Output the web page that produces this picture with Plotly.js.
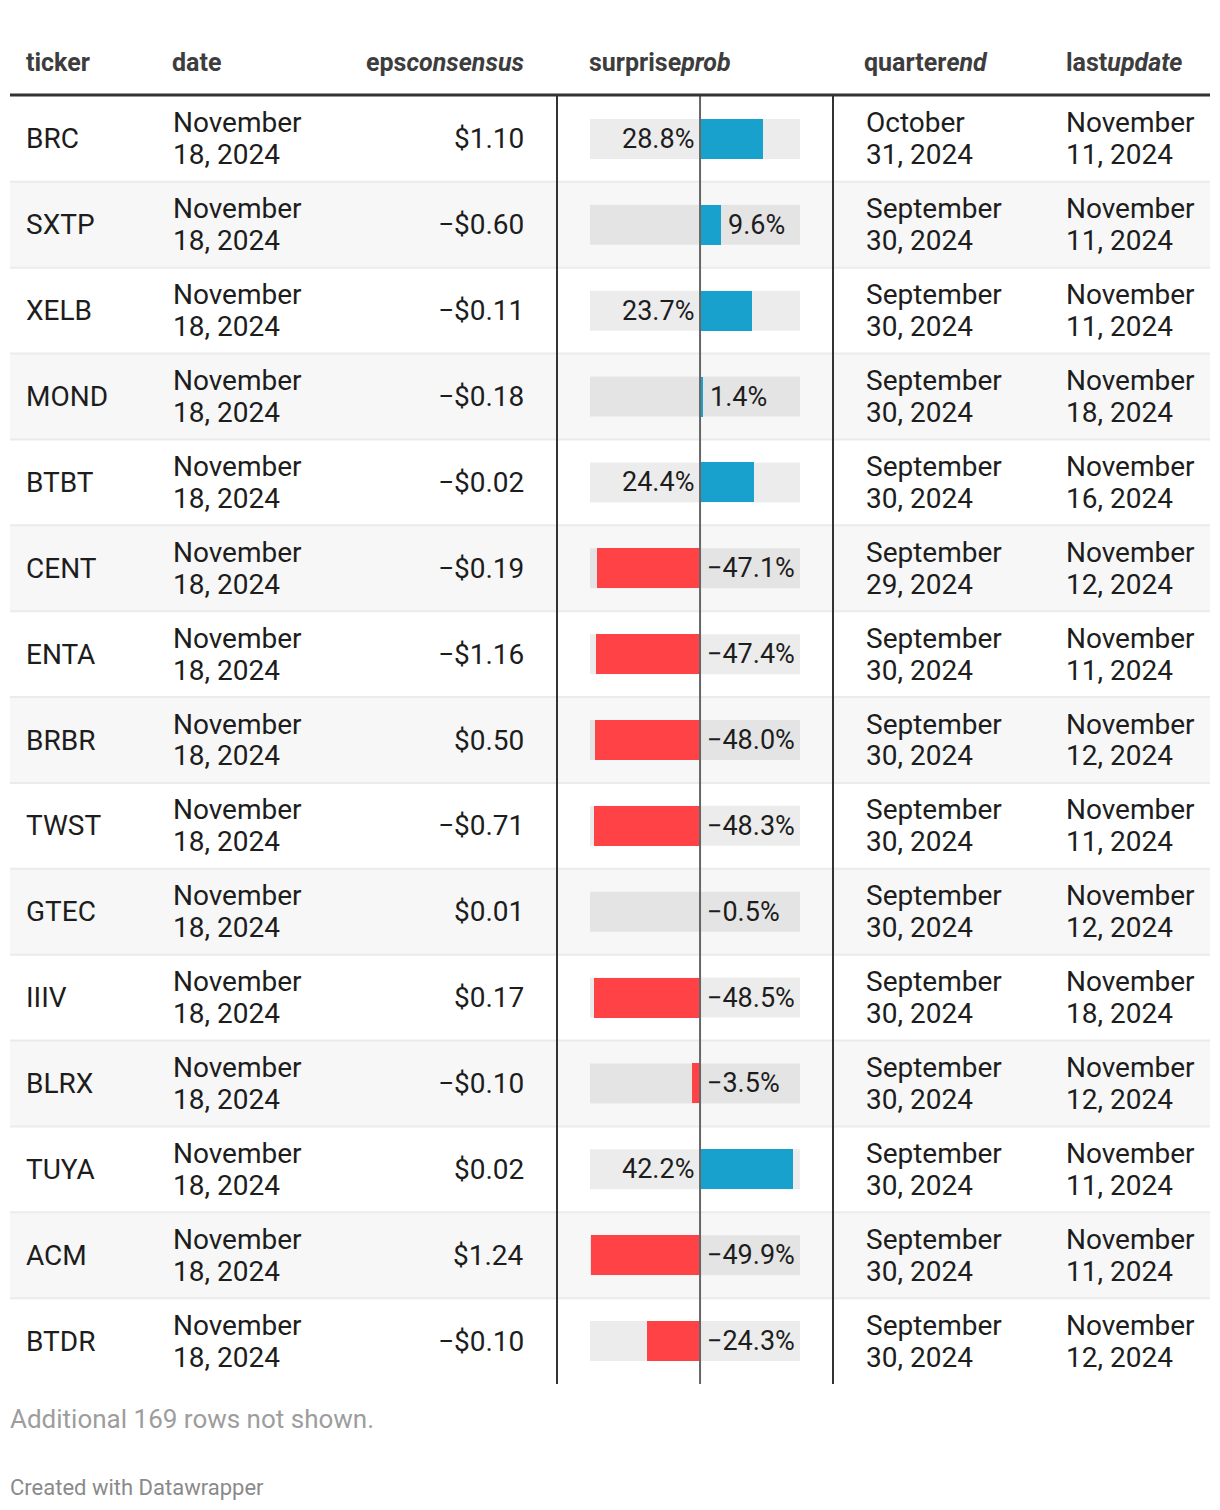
<!DOCTYPE html>
<html>
<head>
<meta charset="utf-8">
<script src="https://cdn.plot.ly/plotly-3.0.1.min.js"></script>
<style>
  html, body { margin: 0; padding: 0; background: #ffffff; }
  #chart { width: 1220px; height: 1510px; }
</style>
</head>
<body>
<div id="chart"></div>
<script>
// ---------------- data ----------------
const tickers = ["BRC","SXTP","XELB","MOND","BTBT","CENT","ENTA","BRBR","TWST","GTEC","IIIV","BLRX","TUYA","ACM","BTDR"];
const dates = ["November 18, 2024","November 18, 2024","November 18, 2024","November 18, 2024","November 18, 2024",
               "November 18, 2024","November 18, 2024","November 18, 2024","November 18, 2024","November 18, 2024",
               "November 18, 2024","November 18, 2024","November 18, 2024","November 18, 2024","November 18, 2024"];
const epsConsensus = [1.10, -0.60, -0.11, -0.18, -0.02, -0.19, -1.16, 0.50, -0.71, 0.01, 0.17, -0.10, 0.02, 1.24, -0.10];
const surpriseProb = [28.8, 9.6, 23.7, 1.4, 24.4, -47.1, -47.4, -48.0, -48.3, -0.5, -48.5, -3.5, 42.2, -49.9, -24.3];
const quarterEnd = ["October 31, 2024","September 30, 2024","September 30, 2024","September 30, 2024","September 30, 2024",
                    "September 29, 2024","September 30, 2024","September 30, 2024","September 30, 2024","September 30, 2024",
                    "September 30, 2024","September 30, 2024","September 30, 2024","September 30, 2024","September 30, 2024"];
const lastUpdate = ["November 11, 2024","November 11, 2024","November 11, 2024","November 18, 2024","November 16, 2024",
                    "November 12, 2024","November 11, 2024","November 12, 2024","November 11, 2024","November 12, 2024",
                    "November 18, 2024","November 12, 2024","November 11, 2024","November 11, 2024","November 12, 2024"];
const hiddenRows = 169;

// ---------------- layout helpers ----------------
const W = 1220, H = 1510;
const px = x => x / W;             // horizontal pixel -> paper
const py = y => 1 - y / H;         // vertical pixel (from top) -> paper
const n = tickers.length;
const rowIdx = tickers.map((_, i) => i);
const FONT = "Roboto, 'Noto Sans', Arial, sans-serif";
const TXT = "#1d1d1d";
const LINE_OFF = 0.186;            // half line spacing in row units
const BAR_RANGE = [-50.2, 45.6];   // bar column axis range
const BAR_PX = 210;                // bar column width in pixels

const fmtEps = v => (v < 0 ? "\u2212" : "") + "$" + Math.abs(v).toFixed(2);
const fmtPct = v => (v < 0 ? "\u2212" : "") + Math.abs(v).toFixed(1) + "%";
const splitDate = s => { const k = s.indexOf(" "); return [s.slice(0, k), s.slice(k + 1)]; };

const shapes = [];
const annotations = [];

// row backgrounds + separators
for (let i = 0; i < n; i++) {
  if (i % 2 === 1) {
    shapes.push({type: "rect", layer: "below", xref: "paper", yref: "y",
      x0: px(10), x1: px(1210), y0: i - 0.5, y1: i + 0.5,
      fillcolor: "#f7f7f7", line: {width: 0}});
  }
}
for (let i = 0; i < n; i++) {
  shapes.push({type: "rect", layer: "below", xref: "x domain", yref: "y",
    x0: 0, x1: 1, y0: i - 0.233, y1: i + 0.233,
    fillcolor: "rgba(0,0,0,0.075)", line: {width: 0}});
}
for (let i = 0; i < n - 1; i++) {
  shapes.push({type: "line", layer: "below", xref: "paper", yref: "y",
    x0: px(10), x1: px(1210), y0: i + 0.5, y1: i + 0.5,
    line: {color: "#ebebeb", width: 2}});
}
// column dividers
[557, 833].forEach(x => shapes.push({type: "line", xref: "paper", yref: "y",
  x0: px(x), x1: px(x), y0: -0.5, y1: n - 0.5, line: {color: "#333333", width: 2}}));
// zero axis of the bar column
shapes.push({type: "line", xref: "x", yref: "y", x0: 0, x1: 0, y0: -0.5, y1: n - 0.5,
  line: {color: "#666666", width: 2}});
// header rule
shapes.push({type: "line", xref: "paper", yref: "paper", x0: px(10), x1: px(1210),
  y0: py(95), y1: py(95), line: {color: "#333333", width: 3}});

// header
const hdr = (text, x, anchor) => annotations.push({xref: "paper", yref: "paper",
  x: px(x), y: py(62), xanchor: anchor, yanchor: "middle", showarrow: false,
  text: "<b>" + text + "</b>", font: {family: FONT, size: 25, color: "#3d3d3d"}});
hdr("ticker", 24, "left");
hdr("date", 170, "left");
hdr("eps<i>consensus</i>", 526, "right");
hdr("surprise<i>prob</i>", 587, "left");
hdr("quarter<i>end</i>", 862, "left");
hdr("last<i>update</i>", 1064, "left");

// body cells
const cell = (text, x, y, anchor, size) => annotations.push({xref: "paper", yref: "y",
  x: px(x), y: y, xanchor: anchor, yanchor: "middle", showarrow: false,
  text: text, font: {family: FONT, size: size || 28, color: TXT}});
const pxPerUnit = BAR_PX / (BAR_RANGE[1] - BAR_RANGE[0]);
for (let i = 0; i < n; i++) {
  cell(tickers[i], 24, i, "left");
  const d = splitDate(dates[i]);
  cell(d[0], 171, i - LINE_OFF, "left");
  cell(d[1], 171, i + LINE_OFF, "left");
  cell(fmtEps(epsConsensus[i]), 526, i, "right");
  const q = splitDate(quarterEnd[i]);
  cell(q[0], 864, i - LINE_OFF, "left");
  cell(q[1], 864, i + LINE_OFF, "left");
  const u = splitDate(lastUpdate[i]);
  cell(u[0], 1064, i - LINE_OFF, "left");
  cell(u[1], 1064, i + LINE_OFF, "left");
  const v = surpriseProb[i];
  const label = fmtPct(v);
  let ann;
  if (v < 0) {
    ann = {x: 0, xanchor: "left", xshift: 5};
  } else {
    // put label after the bar end if it fits inside the column, else left of zero
    const labelW = label.length * 14.5 + 8;
    const room = (BAR_RANGE[1] - v) * pxPerUnit;
    ann = room >= labelW ? {x: v, xanchor: "left", xshift: 5} : {x: 0, xanchor: "right", xshift: -4};
  }
  annotations.push(Object.assign(ann, {xref: "x", yref: "y", y: i,
    yanchor: "middle", showarrow: false, text: label,
    font: {family: FONT, size: 27, color: TXT}}));
}

// footer
annotations.push({xref: "paper", yref: "paper", x: px(8), y: py(1419), xanchor: "left", yanchor: "middle",
  showarrow: false, text: "Additional " + hiddenRows + " rows not shown.",
  font: {family: FONT, size: 26, color: "#9d9d9d"}});
annotations.push({xref: "paper", yref: "paper", x: px(8), y: py(1487), xanchor: "left", yanchor: "middle",
  showarrow: false, text: "Created with Datawrapper",
  font: {family: FONT, size: 22, color: "#8a8a8a"}});

const bars = {
  type: "bar", orientation: "h",
  x: surpriseProb, y: rowIdx, width: 0.466,
  marker: {color: surpriseProb.map(v => v >= 0 ? "#18a1cd" : "#ff4245"), line: {width: 0}},
  hoverinfo: "skip", showlegend: false
};

const layout = {
  width: W, height: H,
  margin: {l: 0, r: 0, t: 0, b: 0, pad: 0},
  paper_bgcolor: "#ffffff", plot_bgcolor: "rgba(0,0,0,0)",
  showlegend: false,
  xaxis: {domain: [px(590), px(590 + BAR_PX)], range: BAR_RANGE, autorange: false,
          showgrid: false, zeroline: false, showticklabels: false, ticks: "", fixedrange: true},
  yaxis: {domain: [py(1384), py(96)], range: [n - 0.5, -0.5], autorange: false,
          showgrid: false, zeroline: false, showticklabels: false, ticks: "", fixedrange: true},
  shapes: shapes,
  annotations: annotations,
  bargap: 0
};

Plotly.newPlot("chart", [bars], layout, {displayModeBar: false, staticPlot: true});
</script>
</body>
</html>
